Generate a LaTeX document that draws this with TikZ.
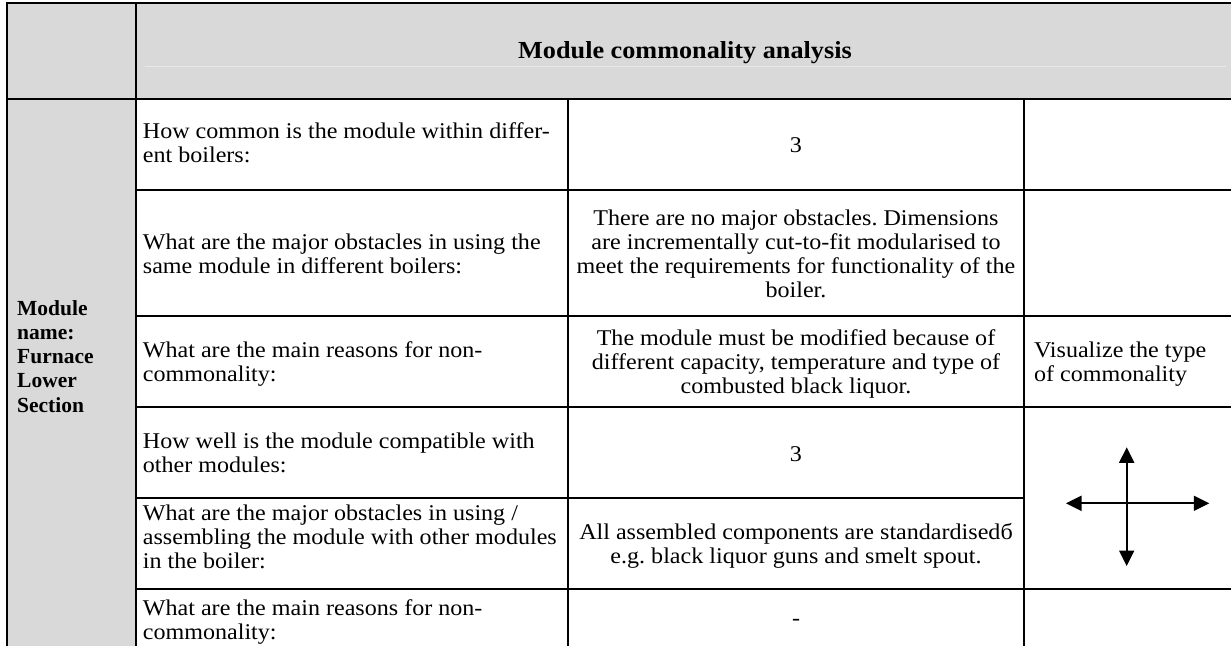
\documentclass[tikz,border=0pt]{standalone}
\usepackage{fontspec}
\setmainfont[FakeStretch=1.07]{Liberation Serif}
\newfontfamily\lcolfont{Liberation Serif}
\usetikzlibrary{arrows.meta}
\definecolor{hdrgray}{HTML}{D9D9D9}
\definecolor{faintline}{HTML}{E8E8E8}
\frenchspacing
\begin{document}
\begin{tikzpicture}[x=1pt,y=-1pt,
  grid/.style={line width=2.2pt, line cap=rect},
  body/.style={font=\fontsize{22.5}{24.2}\selectfont, inner sep=0pt},
  lefttxt/.style={body, align=left, anchor=base west},
  midtxt/.style={body, align=center, anchor=base},
  dbl/.style={line width=2pt, {Triangle[length=15.5pt,width=15pt]}-{Triangle[length=15.5pt,width=15pt]}}
]
\useasboundingbox (0,0) rectangle (1231,645);
% backgrounds
\fill[hdrgray] (7,3) rectangle (1240,99);
\fill[hdrgray] (7,99) rectangle (136,650);
\draw[faintline, line width=1pt] (145,66.7) -- (1226,66.7);
% grid
\draw[grid] (7,3) -- (1240,3);
\draw[grid] (7,3) -- (7,650);
\draw[grid] (136,3) -- (136,650);
\draw[grid] (7,99) -- (1240,99);
\draw[grid] (568,99) -- (568,650);
\draw[grid] (1024,99) -- (1024,650);
\foreach \yy in {190,316,407,589} \draw[grid] (136,\yy) -- (1240,\yy);
\draw[grid] (136,498) -- (1024,498);
% header
\node[font=\bfseries\fontsize{24.5}{26}\selectfont, anchor=base, inner sep=0pt] (hdr) at (685,58.3) {Module commonality analysis};
% left column (anchor = last baseline)
\node[lefttxt, font=\lcolfont\bfseries\fontsize{21.5}{24.3}\selectfont] (mname) at (17,412.2) {Module\\name:\\Furnace\\Lower\\Section};
% questions
\node[lefttxt] (q1) at (142.7,162.5) {How common is the module within differ-\\ent boilers:};
\node[lefttxt] (q2) at (142.7,273.2) {What are the major obstacles in using the\\same module in different boilers:};
\node[lefttxt] (q3) at (142.7,381.2) {What are the main reasons for non-\\commonality:};
\node[lefttxt] (q4) at (142.7,472.2) {How well is the module compatible with\\other modules:};
\node[lefttxt] (q5) at (142.7,568.4) {What are the major obstacles in using /\\assembling the module with other modules\\in the boiler:};
\node[lefttxt] (q6) at (142.7,639.2) {What are the main reasons for non-\\commonality:};
% answers
\node[midtxt] (a1) at (796,152) {3};
\node[midtxt] (a2) at (796,297.6) {There are no major obstacles. Dimensions\\are incrementally cut-to-fit modularised to\\meet the requirements for functionality of the\\boiler.};
\node[midtxt] (a3) at (796,393.4) {The module must be modified because of\\different capacity, temperature and type of\\combusted black liquor.};
\node[midtxt] (a4) at (796,461) {3};
\node[midtxt] (a5) at (796,563.7) {All assembled components are standardisedб\\e.g. black liquor guns and smelt spout.};
\node[midtxt] (a6) at (796,625) {-};
% visualize
\node[lefttxt] (vis) at (1033.8,381.2) {Visualize the type\\of commonality};
% cross arrows
\coordinate (vtop) at (1126.7,447.3);
\coordinate (vbot) at (1126.7,566);
\coordinate (hleft) at (1066,503.3);
\coordinate (hright) at (1209.3,503.3);
\draw[dbl] (vbot) -- (vtop);
\draw[dbl] (hleft) -- (hright);
\end{tikzpicture}
\end{document}
